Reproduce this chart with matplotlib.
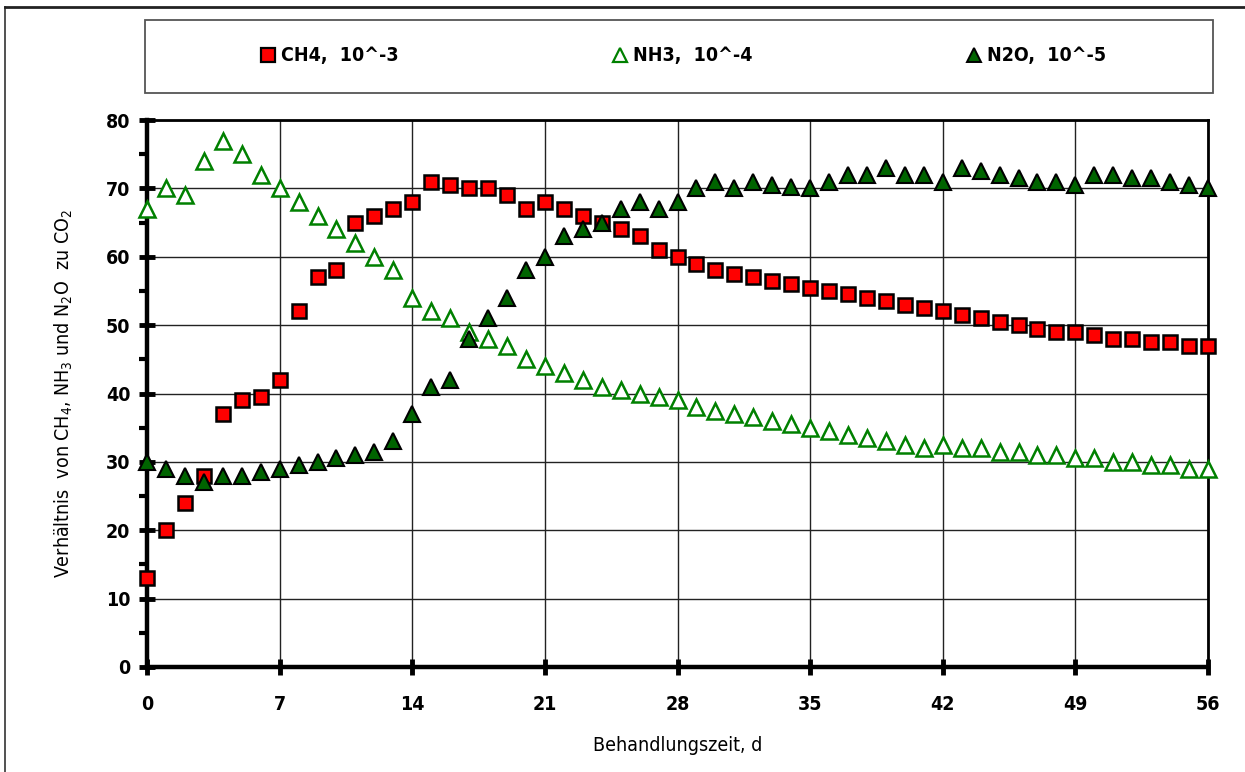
import matplotlib
matplotlib.use("Agg")
import matplotlib.pyplot as plt
from matplotlib.lines import Line2D
from matplotlib.patches import Rectangle
import numpy as np

plt.rcParams['font.family'] = ['DejaVu Sans']
plt.rcParams['font.stretch'] = 'condensed'
plt.rcParams['mathtext.default'] = 'regular'

days = list(range(0, 57))

ch4 = [13, 20, 24, 28, 37, 39, 39.5, 42, 52, 57, 58, 65, 66, 67, 68, 71, 70.5, 70, 70, 69,
       67, 68, 67, 66, 65, 64, 63, 61, 60, 59, 58, 57.5, 57, 56.5, 56, 55.5, 55, 54.5, 54, 53.5,
       53, 52.5, 52, 51.5, 51, 50.5, 50, 49.5, 49, 49, 48.5, 48, 48, 47.5, 47.5, 47, 47]

nh3 = [67, 70, 69, 74, 77, 75, 72, 70, 68, 66, 64, 62, 60, 58, 54, 52, 51, 49, 48, 47,
       45, 44, 43, 42, 41, 40.5, 40, 39.5, 39, 38, 37.5, 37, 36.5, 36, 35.5, 35, 34.5, 34, 33.5, 33,
       32.5, 32, 32.5, 32, 32, 31.5, 31.5, 31, 31, 30.5, 30.5, 30, 30, 29.5, 29.5, 29, 29]

n2o = [30, 29, 28, 27, 28, 28, 28.5, 29, 29.5, 30, 30.5, 31, 31.5, 33, 37, 41, 42, 48, 51, 54,
       58, 60, 63, 64, 65, 67, 68, 67, 68, 70, 71, 70, 71, 70.5, 70.2, 70, 71, 72, 72, 73,
       72, 72, 71, 73, 72.5, 72, 71.5, 71, 71, 70.5, 72, 72, 71.5, 71.5, 71, 70.5, 70]

labels = ["CH4,  10^-3", "NH3,  10^-4", "N2O,  10^-5"]
x_ticks = [0, 7, 14, 21, 28, 35, 42, 49, 56]
y_ticks = [0, 10, 20, 30, 40, 50, 60, 70, 80]

W, H = 1245, 772
fig = plt.figure(figsize=(W / 100, H / 100), dpi=100)
ax = fig.add_axes([147 / W, 1 - 667 / H, (1208 - 147) / W, (667 - 120) / H])

ax.set_xlim(0, 56)
ax.set_ylim(0, 80)

# grid
for yv in y_ticks[1:]:
    ax.axhline(yv, color='#222222', lw=1.0, zorder=1)
for xv in x_ticks[1:]:
    ax.axvline(xv, color='#222222', lw=1.0, zorder=1)

green = '#008000'
ax.plot(days, nh3, linestyle='none', marker='^', markersize=11, markerfacecolor='white',
        markeredgecolor=green, markeredgewidth=1.8, zorder=3, clip_on=False)
ax.plot(days, ch4, linestyle='none', marker='s', markersize=10.5, markerfacecolor='#ff0000',
        markeredgecolor='black', markeredgewidth=1.8, zorder=4, clip_on=False)
ax.plot(days, n2o, linestyle='none', marker='^', markersize=11, markerfacecolor='#006400',
        markeredgecolor='black', markeredgewidth=1.5, zorder=5, clip_on=False)

for s in ['left', 'bottom']:
    ax.spines[s].set_linewidth(3.2)
ax.spines['top'].set_linewidth(2.0)
ax.spines['right'].set_linewidth(2.0)

ax.set_xticks(x_ticks)
ax.set_yticks(y_ticks)
ax.set_yticks(np.arange(5, 80, 10), minor=True)
ax.tick_params(axis='both', which='major', direction='inout', length=12, width=3.5,
               labelsize=14, pad=6)
ax.tick_params(axis='y', which='minor', direction='out', length=6, width=3.0)
ax.tick_params(axis='x', which='major', pad=14)
for lab in ax.get_xticklabels() + ax.get_yticklabels():
    lab.set_fontweight('bold')

ax.set_xlabel('Behandlungszeit, d', fontsize=14, labelpad=16)
ax.set_ylabel('Verhältnis  von CH$_4$, NH$_3$ und N$_2$O  zu CO$_2$', fontsize=14, labelpad=22)

# legend box
fig.patches.append(Rectangle((145 / W, 1 - 93 / H), (1213 - 145) / W, (93 - 20) / H,
                             transform=fig.transFigure, fill=False, edgecolor='#555555',
                             lw=1.3, zorder=0))
handles = [
    Line2D([], [], linestyle='none', marker='s', markersize=10, markerfacecolor='#ff0000',
           markeredgecolor='black', markeredgewidth=1.6),
    Line2D([], [], linestyle='none', marker='^', markersize=10, markerfacecolor='white',
           markeredgecolor=green, markeredgewidth=1.6),
    Line2D([], [], linestyle='none', marker='^', markersize=10, markerfacecolor='#006400',
           markeredgecolor='black', markeredgewidth=1.4),
]
leg = fig.legend(handles, labels, loc='center', bbox_to_anchor=(683 / W, 1 - 56 / H),
                 ncol=3, frameon=False, fontsize=14, handlelength=0.8, handletextpad=0.25,
                 columnspacing=11)
for t in leg.get_texts():
    t.set_fontweight('bold')

# figure border (left and top)
fig.add_artist(Line2D([5 / W, 5 / W], [0, 1 - 7 / H], transform=fig.transFigure,
                      color='#333333', lw=1.2))
fig.add_artist(Line2D([5 / W, 1], [1 - 7 / H, 1 - 7 / H], transform=fig.transFigure,
                      color='#222222', lw=2.0))

fig.savefig('out.png', dpi=100)
